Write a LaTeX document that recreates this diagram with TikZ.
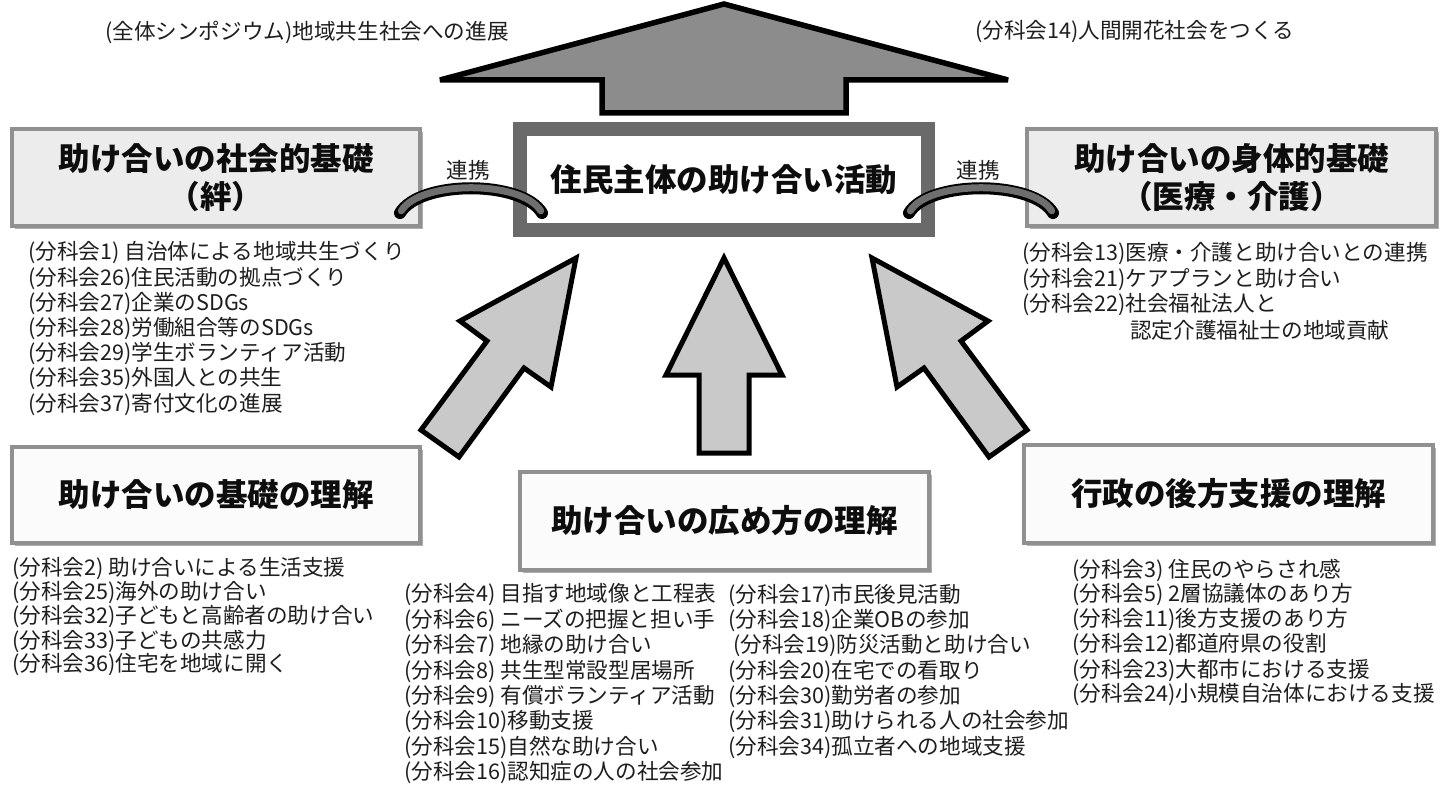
\documentclass[tikz,border=0pt]{standalone}
\usepackage{fontspec}
\setmainfont{Noto Sans CJK JP}
\usetikzlibrary{shadows}
\definecolor{bigarrow}{HTML}{8C8C8C}
\definecolor{smallarrow}{HTML}{C9C9C9}
\definecolor{sidefill}{HTML}{ECECEC}
\definecolor{lowfill}{HTML}{FBFBFB}
\definecolor{boxedge}{HTML}{909090}
\definecolor{centeredge}{HTML}{6A6A6A}
\definecolor{bandfill}{HTML}{6E6E6E}
\definecolor{txt}{HTML}{1E1E1E}
\tikzset{
  item/.style={anchor=west, inner sep=0pt, font=\fontsize{21.6}{25}\selectfont, text=txt},
  ttl/.style={inner sep=0pt, font=\fontsize{31.5}{38}\selectfont\bfseries, text=black!95, align=center},
  shad/.style={drop shadow={shadow xshift=3pt, shadow yshift=-3pt, opacity=0.45, fill=black!70}},
  sidebox/.style={ttl, shad, draw=boxedge, line width=3.5pt, fill=sidefill},
  lowbox/.style={ttl, shad, draw=boxedge, line width=3.5pt, fill=lowfill},
  centerbox/.style={ttl, shad, draw=centeredge, line width=14pt, fill=white},
  bigar/.style={fill=bigarrow, draw=black, line width=5.5pt, line join=miter, miter limit=5},
  smallar/.style={fill=smallarrow, draw=black, line width=5pt, line join=miter, miter limit=5},
  bandout/.style={draw=black, line width=12pt, line cap=round},
  bandin/.style={draw=bandfill, line width=7pt, line cap=round, shorten <=2.5pt, shorten >=2.5pt},
}
\begin{document}
\begin{tikzpicture}[x=1pt,y=-1pt]
\useasboundingbox[fill=white] (0,0) rectangle (1448,789);

% big upward arrow
\draw[bigar] (724,4) -- (1008,80) -- (846,80) -- (846,113) -- (602,113) -- (602,80) -- (440,80) -- cycle;

% top texts
\node[item] (sym) at (105,32) {(全体シンポジウム)地域共生社会への進展};
\node[item] (s14) at (975,32) {(分科会14)人間開花社会をつくる};

% boxes
\node[sidebox, minimum width=408pt, minimum height=97pt] (L) at (216,177.5) {助け合いの社会的基礎\\（絆）};
\node[sidebox, minimum width=409pt, minimum height=97pt] (R) at (1231.5,177.5) {助け合いの身体的基礎\\（医療・介護）};
\node[centerbox, minimum width=408pt, minimum height=101pt] (C) at (724,179.5) {住民主体の助け合い活動};
\node[lowbox, minimum width=408pt, minimum height=96pt] (BL) at (216,495) {助け合いの基礎の理解};
\node[lowbox, minimum width=409pt, minimum height=98pt] (BC) at (724.5,521) {助け合いの広め方の理解};
\node[lowbox, minimum width=409pt, minimum height=98pt] (BR) at (1228.5,494) {行政の後方支援の理解};

% links
\coordinate (lb1) at (400,213);
\coordinate (lb2) at (542,213);
\coordinate (rb1) at (909,213);
\coordinate (rb2) at (1053,213);
\draw[bandout] (lb1) .. controls (420,180) and (522,180) .. (lb2);
\draw[bandin] (lb1) .. controls (420,180) and (522,180) .. (lb2);
\draw[bandout] (rb1) .. controls (929,180) and (1033,180) .. (rb2);
\draw[bandin] (rb1) .. controls (929,180) and (1033,180) .. (rb2);
\node[item, anchor=center] (k1) at (468,170) {連携};
\node[item, anchor=center] (k2) at (978,170) {連携};

% small arrows
\draw[smallar] (576,258) -- (551,387) -- (524,368) -- (459,457) -- (421,430) -- (487,341) -- (460,321) -- cycle;
\draw[smallar] (724,258) -- (782,375) -- (749,375) -- (749,453) -- (699,453) -- (699,375) -- (666,375) -- cycle;
\draw[smallar] (872,258) -- (897,387) -- (924,368) -- (989,457) -- (1027,430) -- (961,341) -- (988,321) -- cycle;

% lists
\foreach \t [count=\i] in {{(分科会1) 自治体による地域共生づくり},{(分科会26)住民活動の拠点づくり},{(分科会27)企業のSDGs},{(分科会28)労働組合等のSDGs},{(分科会29)学生ボランティア活動},{(分科会35)外国人との共生},{(分科会37)寄付文化の進展}}
  \node[item] (tl\i) at (28,{253+25.2*(\i-1)}) {\t};
\foreach \t [count=\i] in {{(分科会13)医療・介護と助け合いとの連携},{(分科会21)ケアプランと助け合い},{(分科会22)社会福祉法人と}}
  \node[item] (tr\i) at (1022,{254+25.3*(\i-1)}) {\t};
\node[item] (tr4) at (1130,329.9) {認定介護福祉士の地域貢献};
\foreach \t [count=\i] in {{(分科会2) 助け合いによる生活支援},{(分科会25)海外の助け合い},{(分科会32)子どもと高齢者の助け合い},{(分科会33)子どもの共感力},{(分科会36)住宅を地域に開く}}
  \node[item] (bl\i) at (12,{569+24*(\i-1)}) {\t};
\foreach \t [count=\i] in {{(分科会4) 目指す地域像と工程表},{(分科会6) ニーズの把握と担い手},{(分科会7) 地縁の助け合い},{(分科会8) 共生型常設型居場所},{(分科会9) 有償ボランティア活動},{(分科会10)移動支援},{(分科会15)自然な助け合い},{(分科会16)認知症の人の社会参加}}
  \node[item] (ca\i) at (404,{595+25.4*(\i-1)}) {\t};
\foreach \t/\dx [count=\i] in {{(分科会17)市民後見活動}/0,{(分科会18)企業OBの参加}/0,{(分科会19)防災活動と助け合い}/5,{(分科会20)在宅での看取り}/0,{(分科会30)勤労者の参加}/0,{(分科会31)助けられる人の社会参加}/0,{(分科会34)孤立者への地域支援}/0}
  \node[item] (cb\i) at ({728+\dx},{595+25.4*(\i-1)}) {\t};
\foreach \t [count=\i] in {{(分科会3) 住民のやらされ感},{(分科会5) 2層協議体のあり方},{(分科会11)後方支援のあり方},{(分科会12)都道府県の役割},{(分科会23)大都市における支援},{(分科会24)小規模自治体における支援}}
  \node[item] (br\i) at (1072,{570+25*(\i-1)}) {\t};
\end{tikzpicture}
\end{document}
